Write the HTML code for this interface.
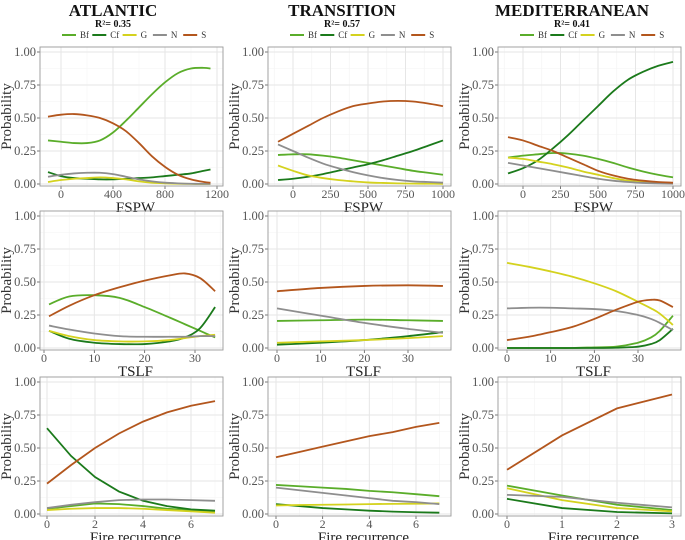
<!DOCTYPE html>
<html><head><meta charset="utf-8">
<style>
html,body{margin:0;padding:0;background:#fff;}
svg{display:block;font-family:"Liberation Serif",serif;}
</style></head>
<body>
<svg id="chart" width="685" height="540" viewBox="0 0 685 540"></svg>
<script>
// ---- data ----
const seriesNames = ["Bf","Cf","G","N","S"];
const seriesColors = ["#5aad2a","#1b7a1b","#d4d21e","#8e8e8e","#b3561d"];
const columnTitles = ["ATLANTIC","TRANSITION","MEDITERRANEAN"];
const r2Labels = ["R²= 0.35","R²= 0.57","R²= 0.41"];
const rowXTitles = ["FSPW","TSLF","Fire recurrence"];
const yTicks = [0,0.25,0.5,0.75,1];
const yTickLabels = ["0.00","0.25","0.50","0.75","1.00"];

// Atlantic FSPW
const a1X = [-100,0,100,200,300,400,500,600,700,800,900,1000,1100,1150];
const a1Bf = [0.33,0.32,0.31,0.31,0.33,0.39,0.48,0.58,0.68,0.77,0.84,0.875,0.88,0.875];
const a1Cf = [0.09,0.06,0.045,0.04,0.035,0.035,0.04,0.045,0.05,0.06,0.07,0.08,0.10,0.11];
const a1G  = [0.015,0.03,0.04,0.045,0.05,0.045,0.035,0.02,0.01,0.005,0.002,0.001,0,0];
const a1N  = [0.055,0.07,0.08,0.085,0.085,0.075,0.055,0.035,0.02,0.01,0.005,0.002,0.001,0.001];
const a1S  = [0.51,0.525,0.53,0.52,0.50,0.46,0.40,0.31,0.21,0.13,0.07,0.035,0.015,0.01];
const a1Ticks = [0,400,800,1200];
// Atlantic TSLF
const a2X = [1,5,10,15,20,25,28,31,34];
const a2Bf = [0.33,0.39,0.40,0.38,0.31,0.23,0.18,0.13,0.08];
const a2Cf = [0.13,0.07,0.04,0.03,0.03,0.05,0.08,0.15,0.31];
const a2G  = [0.13,0.09,0.06,0.05,0.05,0.06,0.075,0.09,0.10];
const a2N  = [0.17,0.14,0.11,0.09,0.085,0.085,0.085,0.09,0.09];
const a2S  = [0.24,0.32,0.40,0.46,0.51,0.55,0.565,0.53,0.43];
const a2Ticks = [0,10,20,30];
// Atlantic fire recurrence
const a3X = [0,1,2,3,4,5,6,7];
const a3Bf = [0.04,0.06,0.08,0.075,0.06,0.04,0.03,0.02];
const a3Cf = [0.65,0.44,0.28,0.17,0.10,0.06,0.035,0.025];
const a3G  = [0.03,0.04,0.045,0.045,0.04,0.03,0.02,0.01];
const a3N  = [0.045,0.07,0.09,0.105,0.11,0.11,0.105,0.10];
const a3S  = [0.23,0.37,0.50,0.61,0.70,0.77,0.82,0.855];
const a3Ticks = [0,2,4,6];
// Transition FSPW
const b1X = [-100,0,100,200,300,400,500,600,700,800,900,1000];
const b1Bf = [0.22,0.225,0.225,0.215,0.20,0.18,0.16,0.14,0.12,0.10,0.085,0.07];
const b1Cf = [0.03,0.04,0.055,0.075,0.10,0.125,0.15,0.18,0.215,0.25,0.29,0.33];
const b1G  = [0.14,0.10,0.065,0.045,0.03,0.02,0.012,0.008,0.005,0.003,0.002,0.001];
const b1N  = [0.30,0.25,0.20,0.155,0.12,0.09,0.065,0.045,0.03,0.02,0.015,0.01];
const b1S  = [0.32,0.38,0.44,0.50,0.55,0.59,0.61,0.625,0.63,0.625,0.61,0.59];
const b1Ticks = [0,250,500,750,1000];
// Transition TSLF
const b2X = [0,10,20,30,38];
const b2Bf = [0.205,0.21,0.215,0.21,0.205];
const b2Cf = [0.025,0.04,0.06,0.09,0.12];
const b2G  = [0.04,0.05,0.06,0.075,0.09];
const b2N  = [0.30,0.245,0.19,0.145,0.115];
const b2S  = [0.43,0.455,0.47,0.475,0.47];
const b2Ticks = [0,10,20,30];
// Transition fire recurrence
const b3X = [0,1,2,3,4,5,6,7];
const b3Bf = [0.22,0.21,0.20,0.19,0.175,0.165,0.15,0.135];
const b3Cf = [0.075,0.06,0.045,0.035,0.025,0.018,0.013,0.01];
const b3G  = [0.065,0.068,0.07,0.072,0.075,0.077,0.078,0.08];
const b3N  = [0.20,0.18,0.16,0.14,0.12,0.10,0.09,0.075];
const b3S  = [0.43,0.47,0.51,0.55,0.59,0.62,0.66,0.69];
const b3Ticks = [0,2,4,6];
// Mediterranean FSPW
const c1X = [-100,0,100,200,300,400,500,600,700,800,900,1000];
const c1Bf = [0.20,0.215,0.225,0.235,0.23,0.215,0.19,0.16,0.125,0.095,0.07,0.05];
const c1Cf = [0.08,0.12,0.18,0.27,0.37,0.48,0.59,0.70,0.79,0.85,0.895,0.925];
const c1G  = [0.20,0.19,0.17,0.15,0.125,0.095,0.07,0.045,0.025,0.015,0.008,0.005];
const c1N  = [0.16,0.14,0.12,0.10,0.08,0.06,0.04,0.025,0.015,0.008,0.004,0.002];
const c1S  = [0.355,0.33,0.29,0.25,0.20,0.15,0.10,0.065,0.04,0.025,0.015,0.01];
const c1Ticks = [0,250,500,750,1000];
// Mediterranean TSLF
const c2X = [0,5,10,15,20,25,30,33,35,38];
const c2Bf = [0,0,0,0,0.005,0.01,0.04,0.08,0.13,0.245];
const c2Cf = [0,0,0,0,0,0.002,0.01,0.03,0.06,0.145];
const c2G  = [0.645,0.615,0.58,0.54,0.49,0.43,0.35,0.30,0.26,0.175];
const c2N  = [0.30,0.305,0.305,0.30,0.295,0.28,0.25,0.22,0.19,0.135];
const c2S  = [0.06,0.085,0.12,0.16,0.22,0.29,0.35,0.365,0.36,0.31];
const c2Ticks = [0,10,20,30];
// Mediterranean fire recurrence
const c3X = [0,1,2,3];
const c3Bf = [0.215,0.14,0.07,0.03];
const c3Cf = [0.115,0.045,0.015,0.005];
const c3G  = [0.195,0.105,0.045,0.02];
const c3N  = [0.145,0.13,0.085,0.05];
const c3S  = [0.335,0.595,0.80,0.905];
const c3Ticks = [0,1,2,3];

// ---- layout ----
const NS = "http://www.w3.org/2000/svg";
const svg = document.getElementById("chart");
function el(tag, attrs, parent){
  const e = document.createElementNS(NS, tag);
  for (const k in attrs) e.setAttribute(k, attrs[k]);
  (parent||svg).appendChild(e);
  return e;
}
const rowsY = [{y1:52,y0:184},{y1:216,y0:348},{y1:382,y0:514}];
const cols = [
  {left:40,right:223,cx:113,lx:62},
  {left:268,right:451,cx:342,lx:290},
  {left:498,right:681,cx:572,lx:520}
];
const xAnch = [
  [[0,61,800,165],[0,44,30,195],[0,47,6,191]],
  [[0,293,1000,443],[0,277,30,408],[0,276,6,416]],
  [[0,523,1000,673],[0,507,30,638],[0,507,3,672]]
];
const panelData = [
  [[a1X,[a1Bf,a1Cf,a1G,a1N,a1S],a1Ticks],[a2X,[a2Bf,a2Cf,a2G,a2N,a2S],a2Ticks],[a3X,[a3Bf,a3Cf,a3G,a3N,a3S],a3Ticks]],
  [[b1X,[b1Bf,b1Cf,b1G,b1N,b1S],b1Ticks],[b2X,[b2Bf,b2Cf,b2G,b2N,b2S],b2Ticks],[b3X,[b3Bf,b3Cf,b3G,b3N,b3S],b3Ticks]],
  [[c1X,[c1Bf,c1Cf,c1G,c1N,c1S],c1Ticks],[c2X,[c2Bf,c2Cf,c2G,c2N,c2S],c2Ticks],[c3X,[c3Bf,c3Cf,c3G,c3N,c3S],c3Ticks]]
];

function smoothPath(pts){
  let d = "M"+pts[0][0].toFixed(2)+","+pts[0][1].toFixed(2);
  for (let i=0;i<pts.length-1;i++){
    const p0=pts[Math.max(0,i-1)],p1=pts[i],p2=pts[i+1],p3=pts[Math.min(pts.length-1,i+2)];
    const c1x=p1[0]+(p2[0]-p0[0])/6, c1y=p1[1]+(p2[1]-p0[1])/6;
    const c2x=p2[0]-(p3[0]-p1[0])/6, c2y=p2[1]-(p3[1]-p1[1])/6;
    d+=" C"+c1x.toFixed(2)+","+c1y.toFixed(2)+" "+c2x.toFixed(2)+","+c2y.toFixed(2)+" "+p2[0].toFixed(2)+","+p2[1].toFixed(2);
  }
  return d;
}
function linePath(pts){
  return "M"+pts.map(p=>p[0].toFixed(2)+","+p[1].toFixed(2)).join(" L");
}

cols.forEach((c,ci)=>{
  const t = el("text",{x:c.cx,y:16,"text-anchor":"middle","font-size":"17","font-weight":"bold",fill:"#111"});
  t.textContent = columnTitles[ci];
  
  
  const r = el("text",{x:c.cx,y:27,"text-anchor":"middle","font-size":"10","font-weight":"bold",fill:"#111"});
  r.textContent = r2Labels[ci];
  
  
  const lg = el("g",{});
  
  
  seriesNames.forEach((s,si)=>{
    const x = c.lx + si*30.3;
    const item = el("g",{},lg);
    
    
    el("line",{x1:x,y1:35,x2:x+14,y2:35,stroke:seriesColors[si],"stroke-width":2},item);
    const tx = el("text",{x:x+18,y:38,"font-size":"9",fill:"#333"},item);
    tx.textContent = s;
  });
});

for (let ci=0;ci<3;ci++){
  for (let ri=0;ri<3;ri++){
    const c = cols[ci], r = rowsY[ri];
    const [dA,pA,dB,pB] = xAnch[ci][ri];
    const xs = v => pA + (v-dA)*(pB-pA)/(dB-dA);
    const ys = v => r.y0 + (r.y1-r.y0)*v;
    const [xd, series, ticks] = panelData[ci][ri];
    const g = el("g",{});
    
    
    const top = r.y1-5, bot = r.y0+2;
    const clipId = "clip"+ci+ri;
    const cp = el("clipPath",{id:clipId},g);
    el("rect",{x:c.left,y:top,width:c.right-c.left,height:bot-top},cp);
    for (let i=0;i<yTicks.length-1;i++){
      const y = ys((yTicks[i]+yTicks[i+1])/2);
      el("line",{x1:c.left,x2:c.right,y1:y,y2:y,stroke:"#f3f3f3","stroke-width":0.6},g);
    }
    const step = ticks[1]-ticks[0];
    for (let v=ticks[0]-step/2; v<=ticks[ticks.length-1]+step; v+=step){
      const x = xs(v);
      if (x>c.left && x<c.right) el("line",{x1:x,x2:x,y1:top,y2:bot,stroke:"#f3f3f3","stroke-width":0.6},g);
    }
    yTicks.forEach((v,i)=>{
      const y = ys(v);
      el("line",{x1:c.left,x2:c.right,y1:y,y2:y,stroke:"#e6e6e6","stroke-width":1},g);
      el("line",{x1:c.left-3,x2:c.left,y1:y,y2:y,stroke:"#555","stroke-width":0.8},g);
      const t = el("text",{x:c.left-4,y:y+4,"text-anchor":"end","font-size":"12.5",fill:"#555"},g);
      t.textContent = yTickLabels[i];
      
      
    });
    ticks.forEach(v=>{
      const x = xs(v);
      if (x>c.left && x<c.right) el("line",{x1:x,x2:x,y1:top,y2:bot,stroke:"#e6e6e6","stroke-width":1},g);
      el("line",{x1:x,x2:x,y1:bot,y2:bot+3,stroke:"#555","stroke-width":0.8},g);
      const t = el("text",{x:x,y:bot+12,"text-anchor":"middle","font-size":"12",fill:"#555"},g);
      t.textContent = String(v);
      
      
    });
    series.forEach((vals,si)=>{
      const pts = xd.map((x,i)=>[xs(x), ys(vals[i])]);
      const p = el("path",{d: ri===2 ? linePath(pts) : smoothPath(pts), fill:"none", stroke:seriesColors[si], "stroke-width":1.8, "clip-path":"url(#"+clipId+")"},g);
      
      
    });
    el("rect",{x:c.left,y:top,width:c.right-c.left,height:bot-top,fill:"none",stroke:"#999","stroke-width":0.9},g);
    const yt = el("text",{x:0,y:0,"text-anchor":"middle","font-size":"15",fill:"#333",transform:"translate("+(c.left-29)+","+((top+bot)/2)+") rotate(-90)"},g);
    yt.textContent = "Probability";
    
    
    const xt = el("text",{x:(c.left+c.right)/2+4,y:bot+26,"text-anchor":"middle","font-size":"15",fill:"#222"},g);
    xt.textContent = rowXTitles[ri];
    
    
  }
}
</script>
</body></html>
